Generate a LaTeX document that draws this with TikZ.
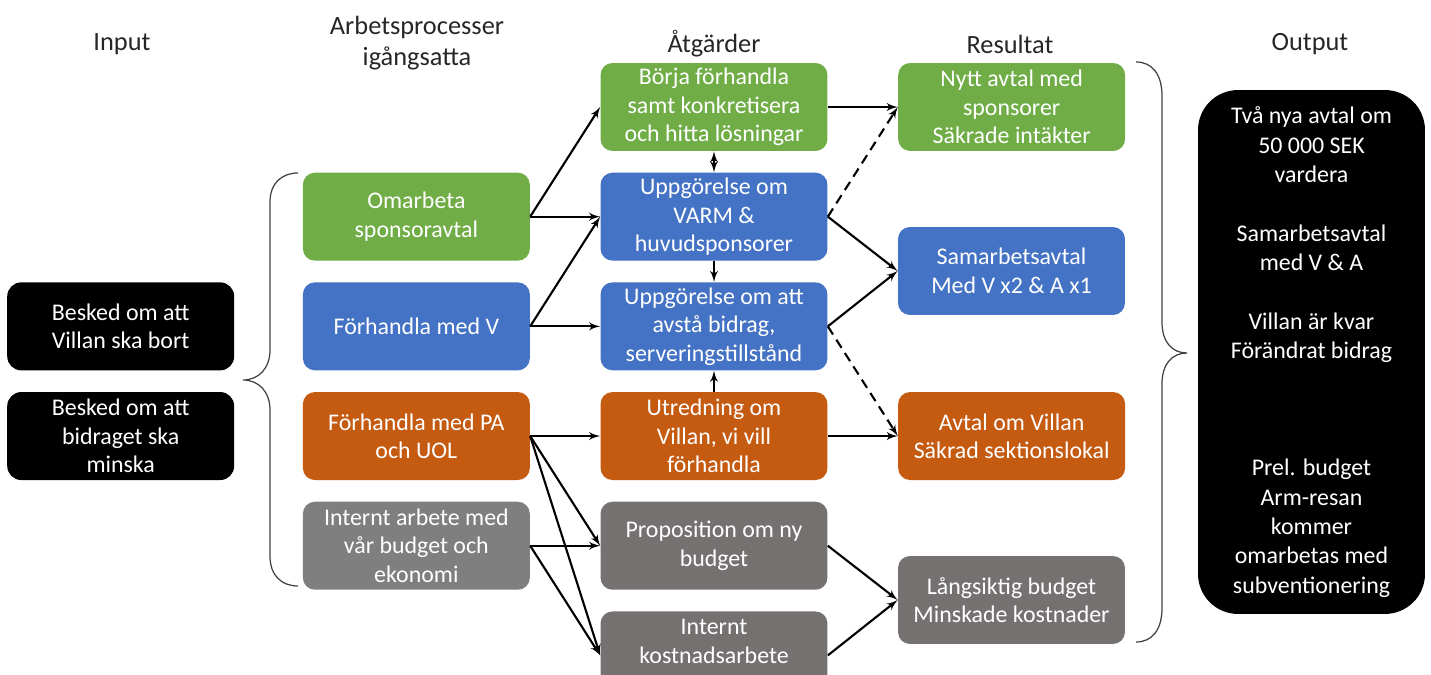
\documentclass[tikz,border=0pt]{standalone}
\usepackage{fontspec}
\setmainfont{Carlito}
\usetikzlibrary{arrows, positioning}
\definecolor{boxgreen}{HTML}{70AD47}
\definecolor{boxblue}{HTML}{4472C4}
\definecolor{boxorange}{HTML}{C55A11}
\definecolor{boxgrey}{HTML}{7F7F7F}
\definecolor{boxdark}{HTML}{767171}
\newcommand{\boxfont}{\fontsize{13.6}{16.2}\selectfont}
\tikzstyle{stage} = [rectangle, fill=boxgreen, text=white, align=center, minimum width=4.54cm, minimum height=1.76cm, inner sep=1pt, rounded corners=0.24cm, font=\boxfont]
\tikzstyle{greenbox} = [stage]
\tikzstyle{bluebox} = [stage, fill=boxblue]
\tikzstyle{orangebox} = [stage, fill=boxorange]
\tikzstyle{greybox} = [stage, fill=boxgrey]
\tikzstyle{darkbox} = [stage, fill=boxdark]
\tikzstyle{blackbox} = [stage, fill=black, rounded corners=0.28cm]
\tikzstyle{header} = [align=center, font=\fontsize{15}{17.5}\selectfont, text=black!85]
\tikzstyle{line} = [draw, -latex', line width=1.2pt]
\tikzstyle{dashline} = [line, dash pattern=on 5.5pt off 3.5pt]
\tikzstyle{bracket} = [draw, line width=0.7pt, black!75]

\begin{document}
\begin{tikzpicture}[x=0.02cm, y=-0.02cm]
\useasboundingbox (0,0) rectangle (1431,675);
% headers
\node [header] (hinput) at (122,44) {Input};
\node [header] (harbete) at (417,43) {Arbetsprocesser\\igångsatta};
\node [header] (hatgard) at (714,44) {Åtgärder};
\node [header] (hresultat) at (1010,44) {Resultat};
\node [header] (houtput) at (1310,44) {Output};
% åtgärder
\node [greenbox] (borja) at (714,107) {Börja förhandla\\samt konkretisera\\och hitta lösningar};
\node [bluebox, below = 0.42cm of borja] (varm) {Uppgörelse om\\VARM \&\\huvudsponsorer};
\node [bluebox, below = 0.42cm of varm] (avsta) {Uppgörelse om att\\avstå bidrag,\\serveringstillstånd};
\node [orangebox, below = 0.42cm of avsta] (utredning) {Utredning om\\Villan, vi vill\\förhandla};
\node [darkbox, below = 0.42cm of utredning] (prop) {Proposition om ny\\budget};
\node [darkbox, below = 0.42cm of prop] (kostnad) {Internt\\kostnadsarbete\\\mbox{}};
% arbetsprocesser
\node [greenbox, left = 1.4cm of varm] (omarbeta) {Omarbeta\\sponsoravtal};
\node [bluebox, left = 1.4cm of avsta] (forhv) {Förhandla med V};
\node [orangebox, left = 1.4cm of utredning] (forhpa) {Förhandla med PA\\och UOL};
\node [greybox, left = 1.4cm of prop] (budget) {Internt arbete med\\vår budget och\\ekonomi};
% input
\node [blackbox, left = 1.36cm of forhv] (villan) {Besked om att\\Villan ska bort};
\node [blackbox, left = 1.36cm of forhpa] (bidrag) {Besked om att\\bidraget ska\\minska};
% resultat
\node [greenbox, right = 1.4cm of borja] (nytt) {Nytt avtal med\\sponsorer\\Säkrade intäkter};
\node [bluebox] (samarb) at (1011.5,271) {Samarbetsavtal\\Med V x2 \& A x1};
\node [orangebox, right = 1.4cm of utredning] (avtalv) {Avtal om Villan\\Säkrad sektionslokal};
\node [darkbox] (langs) at (1011.5,600) {Långsiktig budget\\Minskade kostnader};
% output
\node [blackbox, minimum height=10.48cm, rounded corners=0.8cm, font=\fontsize{13.6}{16.7}\selectfont] (output) at (1311.5,352)
  {Två nya avtal om\\50 000 SEK\\vardera\\[16.7pt]Samarbetsavtal\\med V \& A\\[16.7pt]Villan är kvar\\Förändrat bidrag\\[50.1pt]Prel. budget\\Arm-resan\\kommer\\omarbetas med\\subventionering};
% braces
\path[bracket] (298,173) .. controls (282,173) and (270,183) .. (270,202) -- (270,350) .. controls (270,368) and (259,380) .. (243,380) .. controls (259,380) and (270,392) .. (270,410) -- (270,556) .. controls (270,576) and (282,586) .. (298,586);
\path[bracket] (1136,62) .. controls (1152,62) and (1162,74) .. (1162,96) -- (1162,322) .. controls (1162,342) and (1172,353) .. (1187,353) .. controls (1172,353) and (1162,364) .. (1162,384) -- (1162,608) .. controls (1162,630) and (1152,642) .. (1136,642);
% connectors
\path[line] (omarbeta.east) -- (borja.west);
\path[line] (omarbeta.east) -- (varm.west);
\path[line] (forhv.east) -- (varm.west);
\path[line] (forhv.east) -- (avsta.west);
\path[line] (forhpa.east) -- (utredning.west);
\path[line] (forhpa.east) -- (prop.west);
\path[line] (forhpa.east) -- (kostnad.west);
\path[line] (budget.east) -- (prop.west);
\path[line] (budget.east) -- (kostnad.west);
\path[line, latex'-latex'] (borja) -- (varm);
\path[line] (varm) -- (avsta);
\path[line] (utredning) -- (avsta);
\path[line] (borja.east) -- (nytt.west);
\path[dashline] (varm.east) -- (nytt.west);
\path[line] (varm.east) -- (samarb.west);
\path[line] (avsta.east) -- (samarb.west);
\path[dashline] (avsta.east) -- (avtalv.west);
\path[line] (utredning.east) -- (avtalv.west);
\path[line] (prop.east) -- (langs.west);
\path[line] (kostnad.east) -- (langs.west);
\end{tikzpicture}
\end{document}
